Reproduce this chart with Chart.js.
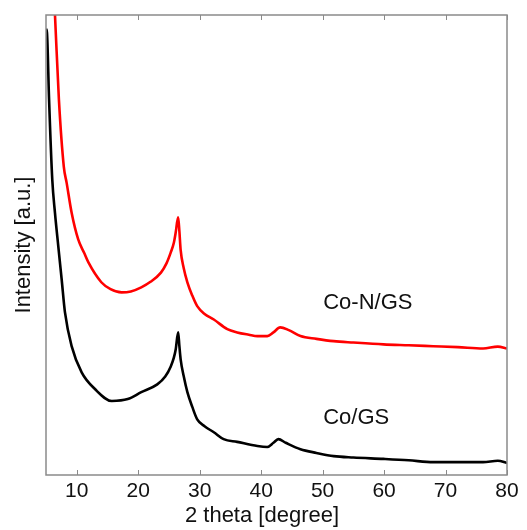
<!DOCTYPE html>
<html>
<head>
<meta charset="utf-8">
<script src="https://cdn.jsdelivr.net/npm/chart.js@4/dist/chart.umd.min.js"></script>
<style>
  html, body { margin: 0; padding: 0; background: #ffffff; }
  #wrap { width: 527px; height: 530px; }
</style>
</head>
<body>
<div id="wrap"><canvas id="c" width="527" height="530"></canvas></div>
<script>
// ---- Data (2 theta in degrees, intensity in arbitrary units 0-100) ----
const seriesNames = ["Co-N/GS", "Co/GS"];

const coNGS_theta = [6.3, 6.46, 7.1, 7.9, 8.36, 9.17, 10.24, 11.2, 11.9, 14.0, 15.5, 17.3, 18.8, 20.5, 22.0, 23.7, 24.6, 25.3, 25.8, 26.1, 26.5, 26.7, 26.9, 27.4, 28.0, 28.8, 29.6, 30.8, 32.3, 34.5, 36.1, 38.0, 39.4, 41.0, 42.0, 43.1, 44.5, 46.4, 49.0, 51.8, 55.0, 59.9, 64.0, 68.0, 72.0, 76.1, 78.5, 80.0];
const coNGS_value = [104, 100, 81.6, 67.0, 63.5, 57.0, 51.2, 48.3, 46.2, 41.9, 40.4, 39.7, 39.9, 40.8, 42.0, 44.0, 46.0, 48.4, 50.5, 52.7, 56.0, 53.0, 49.0, 45.0, 41.9, 39.0, 36.7, 35.0, 33.8, 31.7, 31.0, 30.5, 30.2, 30.2, 31.0, 32.1, 31.5, 30.2, 29.6, 29.1, 28.8, 28.4, 28.2, 28.0, 27.8, 27.5, 27.9, 27.5];

const coGS_theta = [5.0, 5.16, 5.5, 6.02, 6.46, 7.0, 7.55, 8.08, 9.17, 10.8, 12.95, 15.7, 18.3, 20.5, 23.1, 24.4, 25.3, 25.8, 26.1, 26.5, 26.7, 26.9, 27.4, 28.0, 28.8, 29.6, 30.8, 32.3, 33.9, 36.1, 39.4, 41.0, 42.0, 42.8, 44.0, 46.4, 49.0, 51.8, 55.0, 59.9, 64.0, 68.0, 72.0, 76.1, 78.5, 80.0];
const coGS_value = [97, 96.1, 81.6, 64.2, 57.0, 49.7, 42.5, 35.4, 28.0, 22.3, 18.7, 16.1, 16.5, 18.0, 19.7, 21.4, 23.6, 25.5, 27.3, 31.0, 28.0, 25.2, 21.5, 18.0, 14.8, 12.1, 10.6, 9.3, 7.8, 7.2, 6.3, 6.1, 7.0, 7.8, 7.0, 5.6, 4.8, 4.1, 3.8, 3.5, 3.2, 2.8, 2.8, 2.8, 3.1, 2.6];

const xTickValues = [10, 20, 30, 40, 50, 60, 70, 80];
const xRange = [5, 80];
const yRange = [0, 100];
const xTitle = "2 theta [degree]";
const yTitle = "Intensity [a.u.]";

// ---- Build datasets ----
function pts(xs, ys) { return xs.map((x, i) => ({ x: x, y: ys[i] })); }

const FONT = "'Liberation Sans', Arial, sans-serif";
const FRAME = '#8a8a8a';

const framePlugin = {
  id: 'frameAndLabels',
  afterDraw(chart) {
    const { ctx, chartArea: a, scales } = chart;
    ctx.save();
    ctx.strokeStyle = FRAME;
    ctx.lineWidth = 1.5;
    ctx.strokeRect(a.left, a.top, a.right - a.left, a.bottom - a.top);
    ctx.lineWidth = 1;
    xTickValues.forEach(v => {
      const px = Math.round(scales.x.getPixelForValue(v)) + 0.5;
      ctx.beginPath();
      ctx.moveTo(px, a.bottom); ctx.lineTo(px, a.bottom - 5);
      ctx.moveTo(px, a.top); ctx.lineTo(px, a.top + 5);
      ctx.stroke();
    });
    ctx.fillStyle = '#111';
    ctx.font = '22px ' + FONT;
    ctx.textAlign = 'center';
    ctx.textBaseline = 'middle';
    ctx.fillText(xTitle, 262, 516);
    ctx.save();
    ctx.translate(24, 245);
    ctx.rotate(-Math.PI / 2);
    ctx.fillText(yTitle, 0, 0);
    ctx.restore();
    ctx.textAlign = 'left';
    ctx.fillText(seriesNames[0], scales.x.getPixelForValue(50.1), scales.y.getPixelForValue(37.5));
    ctx.fillText(seriesNames[1], scales.x.getPixelForValue(50.1), scales.y.getPixelForValue(12.4));
    ctx.restore();
  }
};

new Chart(document.getElementById('c'), {
  type: 'scatter',
  data: {
    datasets: [
      {
        label: seriesNames[0],
        data: pts(coNGS_theta, coNGS_value),
        showLine: true,
        borderColor: '#ff0000',
        backgroundColor: '#ff0000',
        borderWidth: 2.6,
        pointRadius: 0,
        cubicInterpolationMode: 'monotone'
      },
      {
        label: seriesNames[1],
        data: pts(coGS_theta, coGS_value),
        showLine: true,
        borderColor: '#000000',
        backgroundColor: '#000000',
        borderWidth: 2.6,
        pointRadius: 0,
        cubicInterpolationMode: 'monotone'
      }
    ]
  },
  options: {
    responsive: false,
    animation: false,
    layout: { padding: { top: 15, right: 20, left: 0, bottom: 0 } },
    plugins: { legend: { display: false }, tooltip: { enabled: false } },
    scales: {
      x: {
        type: 'linear',
        min: xRange[0], max: xRange[1],
        afterBuildTicks: s => { s.ticks = xTickValues.map(v => ({ value: v })); },
        afterFit: s => { s.height = 55; },
        grid: { display: false, drawTicks: false },
        border: { display: false },
        ticks: { color: '#111', font: { family: FONT, size: 21 }, padding: 4, maxRotation: 0, autoSkip: false }
      },
      y: {
        type: 'linear',
        min: yRange[0], max: yRange[1],
        afterFit: s => { s.width = 46; },
        grid: { display: false, drawTicks: false },
        border: { display: false },
        ticks: { display: false }
      }
    }
  },
  plugins: [framePlugin]
});
</script>
</body>
</html>
